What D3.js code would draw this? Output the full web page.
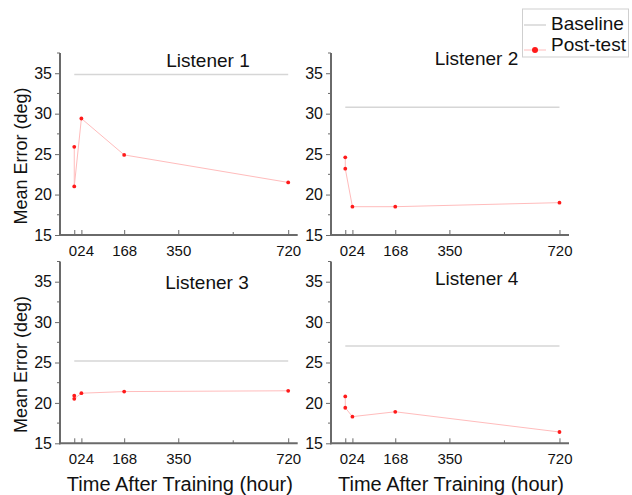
<!DOCTYPE html>
<html><head><meta charset="utf-8">
<script src="https://cdn.jsdelivr.net/npm/d3@7"></script>
<style>
html,body{margin:0;padding:0;background:#fff;}
text{font-family:"Liberation Sans",Arial,sans-serif;fill:#111;}
</style></head>
<body>
<svg id="chart" width="632" height="495"></svg>
<script>
const hours = [0, 0, 24, 168, 720];
const listeners = ["Listener 1", "Listener 2", "Listener 3", "Listener 4"];
const baseline = [34.85, 30.8, 25.2, 27.05];
const post1 = [25.9, 21.0, 29.4, 24.9, 21.5];
const post2 = [24.6, 23.2, 18.5, 18.5, 19.0];
const post3 = [20.9, 20.5, 21.2, 21.4, 21.5];
const post4 = [20.8, 19.4, 18.3, 18.9, 16.4];
const postSeries = [post1, post2, post3, post4];
const xTicks = [0, 24, 168, 350, 720];
const xMinor = [535];
const yTicks = [15, 20, 25, 30, 35];
const yMinor = [17.5, 22.5, 27.5, 32.5, 37.5];
const xTitle = "Time After Training (hour)";
const yTitle = "Mean Error (deg)";
const legendLabels = ["Baseline", "Post-test"];

const svg = d3.select("#chart");
const panels = [
  {x0: 60, x1: 297.7, y0: 235, y1: 53, titleX: 208, titleY: 67, showY: true, showX: false},
  {x0: 331, x1: 569, y0: 235, y1: 53, titleX: 476.5, titleY: 65, showY: false, showX: false},
  {x0: 60, x1: 297.7, y0: 443.3, y1: 261.5, titleX: 207, titleY: 289, showY: true, showX: true},
  {x0: 331, x1: 569, y0: 443.3, y1: 261.5, titleX: 476.7, titleY: 285, showY: false, showX: true}
];
const axisColor = "#6a6a6a";

panels.forEach((p, i) => {
  const x = d3.scaleLinear().domain([-48, 752]).range([p.x0, p.x1]);
  const y = d3.scaleLinear().domain([15, 37.5]).range([p.y0, p.y1]);
  const g = svg.append("g");

  // baseline
  g.append("line")
    .attr("x1", x(0)).attr("x2", x(720))
    .attr("y1", y(baseline[i])).attr("y2", y(baseline[i]))
    .attr("stroke", "#d6d6d6").attr("stroke-width", 1.5);

  // post-test line
  const pts = hours.map((h, k) => [h, postSeries[i][k]]);
  g.append("path")
    .attr("d", d3.line().x(d => x(d[0])).y(d => y(d[1]))(pts))
    .attr("fill", "none").attr("stroke", "#ffbcbc").attr("stroke-width", 1);
  g.selectAll("circle.pt").data(pts).enter().append("circle")
    .attr("cx", d => x(d[0])).attr("cy", d => y(d[1])).attr("r", 1.9)
    .attr("fill", "#ff1a1a");

  // y axis
  const ya = g.append("g").attr("transform", `translate(${p.x0},0)`)
    .call(d3.axisLeft(y).tickValues(yTicks).tickSize(5).tickPadding(3).tickFormat(d3.format("d")));
  ya.select(".domain").remove();
  ya.selectAll(".tick line").attr("stroke", axisColor).attr("stroke-width", 1);
  ya.selectAll(".tick text").style("font-size", "16px").style("font-family", '"Liberation Sans",Arial,sans-serif').attr("fill", "#111");
  g.selectAll("line.ymin").data(yMinor).enter().append("line")
    .attr("x1", p.x0 - 3).attr("x2", p.x0).attr("y1", d => y(d)).attr("y2", d => y(d))
    .attr("stroke", axisColor).attr("stroke-width", 1);
  g.append("line").attr("x1", p.x0).attr("x2", p.x0).attr("y1", p.y0 + 1).attr("y2", p.y1)
    .attr("stroke", axisColor).attr("stroke-width", 2);

  // x axis
  const xa = g.append("g").attr("transform", `translate(0,${p.y0})`)
    .call(d3.axisBottom(x).tickValues(xTicks).tickSize(-5).tickPadding(10).tickFormat(d3.format("d")));
  xa.select(".domain").remove();
  xa.selectAll(".tick line").attr("stroke", axisColor).attr("stroke-width", 1);
  xa.selectAll(".tick text").style("font-size", "15px").style("font-family", '"Liberation Sans",Arial,sans-serif').attr("fill", "#111");
  xa.selectAll(".tick text").filter(d => d === 0).attr("text-anchor", "end").attr("x", 2.3);
  xa.selectAll(".tick text").filter(d => d === 24).attr("text-anchor", "start").attr("x", -4.6);
  g.selectAll("line.xmin").data(xMinor).enter().append("line")
    .attr("x1", d => x(d)).attr("x2", d => x(d)).attr("y1", p.y0).attr("y2", p.y0 - 3)
    .attr("stroke", axisColor).attr("stroke-width", 1);
  g.append("line").attr("x1", p.x0 - 1).attr("x2", p.x1).attr("y1", p.y0).attr("y2", p.y0)
    .attr("stroke", axisColor).attr("stroke-width", 2);

  // title
  g.append("text").attr("x", p.titleX).attr("y", p.titleY).attr("text-anchor", "middle")
    .style("font-size", "19px").text(listeners[i]);

  if (p.showY) {
    g.append("text")
      .attr("transform", `translate(27,${(p.y0 + p.y1) / 2 + 12}) rotate(-90)`)
      .attr("text-anchor", "middle").style("font-size", "18px").text(yTitle);
  }
  if (p.showX) {
    g.append("text").attr("x", (p.x0 + p.x1) / 2 + 1).attr("y", 491)
      .attr("text-anchor", "middle").style("font-size", "20px").text(xTitle);
  }
});

// legend
const lg = svg.append("g");
lg.append("rect").attr("x", 522.5).attr("y", 9).attr("width", 106).attr("height", 48)
  .attr("fill", "#fff").attr("stroke", "#cfcfcf").attr("stroke-width", 1);
lg.append("line").attr("x1", 524).attr("x2", 546).attr("y1", 25).attr("y2", 25)
  .attr("stroke", "#d6d6d6").attr("stroke-width", 1.5);
lg.append("line").attr("x1", 524).attr("x2", 546).attr("y1", 50).attr("y2", 50)
  .attr("stroke", "#ffbcbc").attr("stroke-width", 1);
lg.append("circle").attr("cx", 535).attr("cy", 50).attr("r", 3).attr("fill", "#ff1a1a");
lg.selectAll("text.lg").data(legendLabels).enter().append("text")
  .attr("x", 551).attr("y", (d, k) => k === 0 ? 29.5 : 51)
  .style("font-size", "19px").text(d => d);
</script>
</body></html>
